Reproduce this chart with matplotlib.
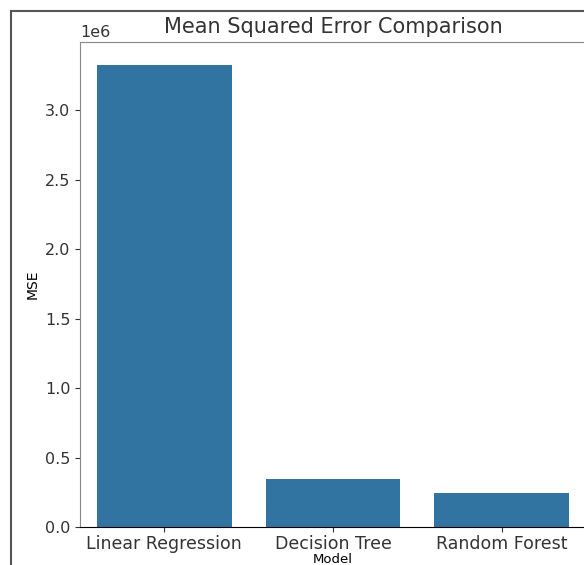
import matplotlib.pyplot as plt
from matplotlib.lines import Line2D

models = ["Linear Regression", "Decision Tree", "Random Forest"]
mse = [3.33e6, 0.345e6, 0.247e6]

fig = plt.figure(figsize=(5.84, 5.65), dpi=100)
ax = fig.add_axes([80 / 584, 38 / 565, 506 / 584, 485.5 / 565])

ax.bar(range(len(models)), mse, width=0.8, color="#3274a1")
ax.set_xticks(range(len(models)))
ax.set_xticklabels(models, fontsize=12.5)
ax.set_xlim(-0.5, len(models) - 0.5)
ax.tick_params(axis="y", labelsize=11.5)
ax.tick_params(axis="x", pad=2)
ax.tick_params(colors="#333333")
ax.set_title("Mean Squared Error Comparison", fontsize=15, color="#333333")
ax.set_xlabel("Model", fontsize=9.5)
ax.xaxis.set_label_coords(0.5, -0.053)
ax.set_ylabel("MSE", fontsize=10)
ax.yaxis.get_offset_text().set_fontsize(11.5)
for s in ["top", "left", "right"]:
    ax.spines[s].set_color("#888888")

# screenshot frame
fig.add_artist(Line2D([11 / 584, 1], [1 - 11 / 565, 1 - 11 / 565], color="#555555", lw=1.5))
fig.add_artist(Line2D([11 / 584, 11 / 584], [0, 1 - 11 / 565], color="#555555", lw=1.5))

fig.savefig("out.png", dpi=100)
